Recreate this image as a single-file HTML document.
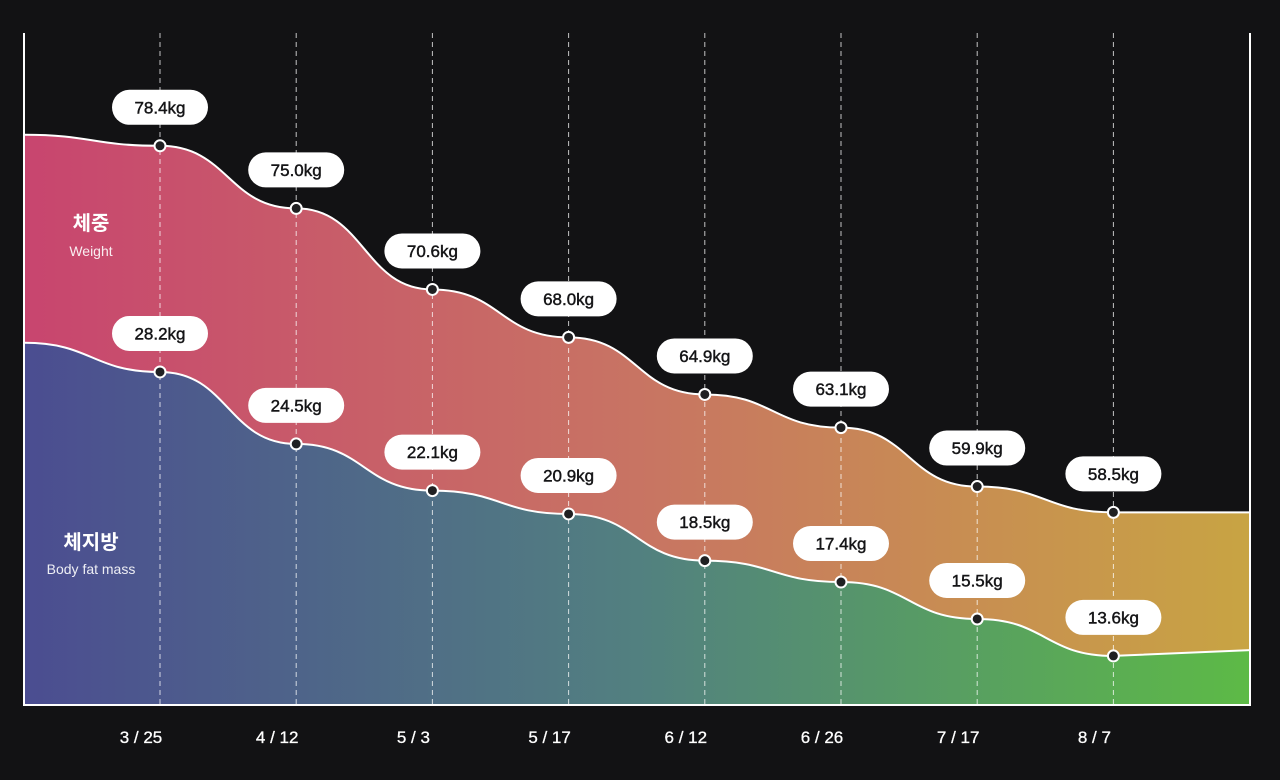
<!DOCTYPE html>
<html><head><meta charset="utf-8"><style>
html,body{margin:0;padding:0;background:#121214;}
svg{display:block;font-family:"Liberation Sans","Noto Sans CJK KR",sans-serif;}
</style></head><body>
<svg id="chart" width="1280" height="780" viewBox="0 0 1280 780" xmlns="http://www.w3.org/2000/svg">
<defs>
<linearGradient id="gW" x1="24" x2="1250" y1="0" y2="0" gradientUnits="userSpaceOnUse">
<stop offset="0" stop-color="#c8456f"/><stop offset="0.5" stop-color="#c87463"/><stop offset="1" stop-color="#c8a443"/>
</linearGradient>
<linearGradient id="gF" x1="24" x2="1250" y1="0" y2="0" gradientUnits="userSpaceOnUse">
<stop offset="0" stop-color="#4b4d91"/><stop offset="0.5" stop-color="#528080"/><stop offset="1" stop-color="#5dba46"/>
</linearGradient>
</defs>
<rect width="1280" height="780" fill="#121214"/>
<g id="areas"></g>
<g id="grid"></g>
<g id="lines"></g>
<line x1="24" y1="33" x2="24" y2="705" stroke="#fff" stroke-width="2"/>
<line x1="1250" y1="33" x2="1250" y2="705" stroke="#fff" stroke-width="2"/>
<line x1="23" y1="705" x2="1251" y2="705" stroke="#fff" stroke-width="2"/>
<g id="marks"></g>
<g id="xlabels"></g>
<text x="91" y="230" fill="#fff" font-size="20" font-weight="bold" text-anchor="middle">체중</text>
<text x="91" y="256" fill="#fff" fill-opacity="0.9" font-size="14" text-anchor="middle">Weight</text>
<text x="91" y="549" fill="#fff" font-size="20" font-weight="bold" text-anchor="middle">체지방</text>
<text x="91" y="574" fill="#fff" fill-opacity="0.9" font-size="14" text-anchor="middle">Body fat mass</text>
</svg>
<script>
const dates = ["3 / 25","4 / 12","5 / 3","5 / 17","6 / 12","6 / 26","7 / 17","8 / 7"];
const weight = [78.4,75.0,70.6,68.0,64.9,63.1,59.9,58.5];
const fat = [28.2,24.5,22.1,20.9,18.5,17.4,15.5,13.6];
const weightEdges = [79.0,58.5];
const fatEdges = [29.7,13.9];

const NS="http://www.w3.org/2000/svg";
const L=24,R=1250,B=705,T=33;
const x0=160,step=136.2;
function xs(i){return x0+i*step;}
function yW(v){return 350.25-18.42*(v-67.3);}
function yF(v){return 529.75-19.45*(v-20.0875);}
function mk(tag,attrs,parent){const e=document.createElementNS(NS,tag);for(const k in attrs)e.setAttribute(k,attrs[k]);parent.appendChild(e);return e;}

function curve(vals,edges,ys,linearEnd){
  let d="M"+L+","+ys(edges[0]);
  let px=L,py=ys(edges[0]);
  vals.forEach((v,i)=>{const x=xs(i),y=ys(v);const h=(x-px)/2;d+=" C"+(px+h)+","+py+" "+(x-h)+","+y+" "+x+","+y;px=x;py=y;});
  const ey=ys(edges[1]);
  if(linearEnd)d+=" L"+R+","+ey;else{const h=(R-px)/2;d+=" C"+(px+h)+","+py+" "+(R-h)+","+ey+" "+R+","+ey;}
  return d;
}
const areas=document.getElementById('areas'),lines=document.getElementById('lines'),grid=document.getElementById('grid'),marks=document.getElementById('marks'),xl=document.getElementById('xlabels');
const dW=curve(weight,weightEdges,yW,false), dF=curve(fat,fatEdges,yF,true);
let a=mk('path',{d:dW+" L"+R+","+B+" L"+L+","+B+" Z",fill:"url(#gW)"},areas);


a=mk('path',{d:dF+" L"+R+","+B+" L"+L+","+B+" Z",fill:"url(#gF)"},areas);


a=mk('path',{d:dW,fill:"none",stroke:"#fff","stroke-width":2},lines);


a=mk('path',{d:dF,fill:"none",stroke:"#fff","stroke-width":2},lines);



dates.forEach((dt,i)=>{
  const x=xs(i);
  const g=mk('line',{x1:x,y1:T,x2:x,y2:B,stroke:"#fff","stroke-opacity":0.75,"stroke-width":1,"stroke-dasharray":"5,4"},grid);
  
  
  const t=mk('text',{x:x-19,y:743,fill:"#fff","font-size":17,"text-anchor":"middle",stroke:"#fff","stroke-width":0.3},xl);
  t.textContent=dt;
  
  
});
function pts(vals,ys,name){
  vals.forEach((v,i)=>{
    const x=xs(i),y=ys(v);
    const p=mk('rect',{x:x-48,y:y-56,width:96,height:35,rx:17.5,fill:"#fff"},marks);
    
    
    const t=mk('text',{x:x,y:y-32.5,fill:"#151517","font-size":17,"text-anchor":"middle",stroke:"#151517","stroke-width":0.45},marks);
    t.textContent=v.toFixed(1)+"kg";
    
    
    const c=mk('circle',{cx:x,cy:y,r:5.5,fill:"#202022",stroke:"#fff","stroke-width":2},marks);
    
    
  });
}
pts(weight,yW,'weight');
pts(fat,yF,'fat');
</script>
</body></html>
